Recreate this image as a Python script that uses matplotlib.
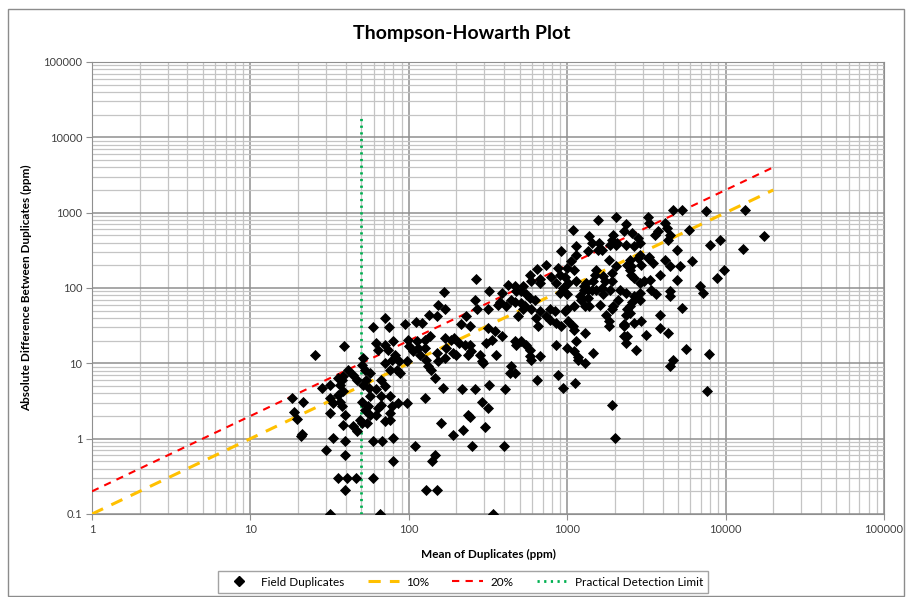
import numpy as np
import matplotlib.pyplot as plt
from matplotlib.lines import Line2D
from matplotlib.patches import Rectangle
from matplotlib.ticker import LogLocator, FixedLocator, FuncFormatter

plt.rcParams['font.family'] = ['Lato', 'DejaVu Sans']

# field duplicate pairs: mean of the pair vs absolute difference (ppm)
mean_ppm = [
    18.4, 21.5, 18.9, 19.8, 21.3, 20.9,
    25.5, 39, 59.6, 70.6, 75, 94, 111, 122, 134, 150, 153, 169, 167,
    62, 64, 70.6, 74, 79, 82, 78, 99, 112, 101, 107, 115, 126, 136, 126, 117, 129, 132, 139,
    150, 153, 169, 171, 169, 146, 126, 164,
    87, 97, 84, 88, 76, 70.6, 67, 70.6, 67, 76, 78, 76, 67, 64, 62, 57, 55, 57, 62, 56.4,
    54, 57, 52.6, 51, 51.5, 51.5, 52.6, 51, 46.8, 44.6, 41.4, 38.5, 37.6, 36.7, 38.5, 35.8,
    36.7, 37.6, 39.5, 31.8, 28.5, 31.8, 31.8, 33.3, 35.8, 85, 97,
    33, 30, 39.5, 39.5, 35.8, 40.6, 46.3, 59.6, 39.5, 32, 65.6, 59.6, 68, 80, 79, 109, 146,
    141, 129, 150, 159, 54.6, 46.8, 38.5, 44.2, 49.3, 51, 76, 70.6,
    218, 261, 321, 405, 288, 318, 237, 243, 220, 189, 302, 251, 400, 342, 942, 1120, 1930,
    2014, 649,
    918, 732, 645, 580, 594, 671, 677, 875, 998, 897, 965, 795, 855, 1010, 942, 897, 990,
    267, 424, 385, 321, 261, 270, 316, 231, 215, 243, 186, 375, 366, 413, 444, 466, 514, 540,
    526, 490, 594, 623, 580, 552, 478, 514, 466, 526, 638, 655, 671, 738, 775, 775, 833, 855,
    918, 1010, 965, 990,
    855, 990, 875, 552, 580, 580, 594, 677, 514, 478, 466, 385, 349, 316, 333, 309, 281, 357,
    288, 296, 444, 437, 466, 226, 190, 200, 237, 248, 243, 194, 208,
    1090, 1560, 2040, 1950, 1910, 1860, 2040, 2070, 1370, 1430, 1590, 1650, 1560, 1350, 1140,
    1140, 1060, 1100, 2040, 1830, 1910, 1680, 1720, 1520, 1490, 1450, 1320, 1270, 1140, 1200,
    1270, 1350, 1430, 1520, 1650, 1910, 1860, 1680, 1350, 1230, 1290, 1380, 1620, 1950, 1910,
    2140, 2090, 1770, 1830, 1830, 1100, 1090, 1110, 1290, 1140, 1110, 1170, 1170, 1290, 1450,
    2360, 2270, 2580, 2800, 2870, 2650, 2360, 3270, 3250, 3480, 3560, 3720, 3300, 3250, 4130,
    4270, 4440, 4340, 4900, 4130, 4440, 3830, 3320, 4900, 4440, 3640, 4440, 3870, 3830, 4340,
    4650, 4440, 2720, 3160, 2400, 2360, 2650, 2940, 2290, 2300, 2480, 2400, 2480, 2580, 2870,
    2650, 2360, 2870, 3380, 3060, 2870, 2650, 2520, 2480, 2520, 2400, 2480, 2800, 2870, 2940,
    2360, 2300, 2300, 4650,
    5300, 7550, 13200, 17600, 12800, 9250, 7930, 5870, 9700, 8800, 6850, 7200, 6170, 5130,
    5300, 5590, 7820, 7620,
]
abs_diff_ppm = [
    3.47, 3.1, 2.24, 1.83, 1.17, 1.1,
    13, 17.2, 30.4, 40, 30.4, 33, 35, 34, 44, 42, 60, 52, 88,
    18.9, 15.2, 17.7, 15.2, 19.6, 13, 11.2, 20.6, 19.6, 16.8, 14.4, 16, 20.6, 22.9, 16, 13, 11.2, 9.1, 8.2,
    13.8, 10.6, 21.8, 16, 11.8, 6.4, 3.5, 4.7,
    10.6, 10.6, 8.2, 7.5, 8.2, 10.1, 6.1, 4.95, 3.65, 3.65, 2.7, 2.2, 2.8, 2.55, 2.08, 2.08, 2.7, 3.65, 4.5, 4.7,
    6.1, 7.5, 8.2, 9.6, 11.8, 5.2, 2.4, 3.1, 6.1, 7.1, 8.2, 6.7, 6.1, 5.2, 4.25, 3.85,
    3.1, 2.7, 2.08, 5.2, 4.7, 3.5, 2.2, 3.0, 6.4, 2.97, 3.0,
    1.02, 0.71, 0.92, 0.61, 0.3, 0.3, 0.3, 0.3, 0.206, 0.1, 0.1, 0.92, 0.92, 1.02, 0.5, 0.81, 0.61,
    0.5, 0.206, 0.206, 1.6, 1.6, 1.25, 1.53, 1.46, 1.79, 1.6, 1.79, 1.7,
    4.5, 4.5, 5.2, 4.6, 3.1, 2.55, 2.08, 1.94, 1.32, 1.13, 1.43, 0.81, 0.81, 0.1, 4.7, 5.4, 2.83,
    1.02, 6.1,
    307, 205, 180, 150, 123, 132, 117, 185, 185, 150, 142, 142, 117, 117, 100, 86, 82,
    132, 111, 86, 90, 70, 52, 52, 43, 33, 31, 20.6, 66, 60, 57, 70, 66, 63, 57,
    52, 42, 52, 70, 74, 82, 90, 90, 105, 105, 40, 31, 49, 42, 38, 52, 49, 34,
    31, 36, 49, 52,
    17.7, 16, 7.1, 17.7, 15.2, 12.4, 11.2, 12.4, 19.6, 17.7, 19.6, 22.9, 26.6, 29.5, 20.6, 18.7, 13, 13,
    10.6, 10.1, 9.1, 7.5, 7.5, 17.7, 13.8, 13, 13, 14.4, 17.7, 21.8, 18.7,
    597, 795, 880, 512, 440, 377, 377, 400, 486, 400, 400, 324, 324, 307, 358,
    278, 226, 172, 194, 238, 158, 143, 123, 176, 150, 123, 117, 105, 123, 78,
    95, 95, 95, 95, 100, 123, 95, 82, 74, 70, 57, 57, 60, 57, 52,
    95, 70, 44, 36, 31, 57, 31, 28, 25, 19.5, 14.4, 12.3, 11.2, 10.1, 13.8,
    716, 566, 540, 460, 400, 358, 377, 261, 250, 215, 512, 566, 733, 880, 733,
    630, 512, 440, 324, 238, 194, 150, 129, 129, 90, 84, 78, 44, 29.5, 25,
    11.2, 9.1, 15.2, 24, 23, 18.7, 34, 36, 33, 31, 47, 52, 57, 66, 70,
    78, 86, 86, 95, 123, 117, 136, 150, 176, 194, 204, 238, 250, 278, 204,
    44, 32, 23.3, 1100,
    1100, 1066, 1100, 486, 333, 439, 377, 583, 176, 135, 105, 85, 231, 198,
    54, 15.5, 13.2, 4.3,
]

# reference lines: relative precision of 10% and 20%, and the detection limit
line_x = [1, 20000]
pct_10 = [0.1, 2000]
pct_20 = [0.2, 4000]
pdl_x = [50, 50]
pdl_y = [0.1, 20000]

x_ticks = [1, 10, 100, 1000, 10000, 100000]
y_ticks = [0.1, 1, 10, 100, 1000, 10000, 100000]

fig = plt.figure(figsize=(9.06, 5.97), dpi=100)
ax = fig.add_axes([92 / 906, 83 / 597, 792 / 906, 452 / 597])

# chart area border
fig.patches.append(Rectangle((8 / 906, 0.002), 896 / 906, 587 / 597, transform=fig.transFigure,
                             fill=False, edgecolor='#8c8c8c', linewidth=1.0))

ax.set_xscale('log')
ax.set_yscale('log')
ax.set_xlim(1, 100000)
ax.set_ylim(0.1, 100000)

ax.xaxis.set_major_locator(FixedLocator(x_ticks))
ax.yaxis.set_major_locator(FixedLocator(y_ticks))
ax.xaxis.set_minor_locator(LogLocator(base=10, subs=np.arange(2, 10), numticks=20))
ax.yaxis.set_minor_locator(LogLocator(base=10, subs=np.arange(2, 10), numticks=20))
fmt = FuncFormatter(lambda v, p: ('%g' % v) if v >= 1 else '0.1')
ax.xaxis.set_major_formatter(fmt)
ax.yaxis.set_major_formatter(fmt)

ax.grid(True, which='major', color='#8f8f8f', linewidth=1.1)
ax.grid(True, which='minor', color='#c4c4c4', linewidth=0.9)
ax.set_axisbelow(True)
for s in ax.spines.values():
    s.set_color('#8f8f8f')
ax.tick_params(which='major', length=4, color='#8f8f8f', labelsize=8, labelcolor='#404040', pad=3)
ax.tick_params(which='minor', length=0)

ax.scatter(mean_ppm, abs_diff_ppm, marker='D', s=32, color='black', linewidths=0, zorder=4,
           label='Field Duplicates')
ax.plot(line_x, pct_10, color='#FFC000', linewidth=2.2, dashes=(4, 3), zorder=3, label='10%')
ax.plot(line_x, pct_20, color='#FF0000', linewidth=1.5, dashes=(3.5, 3), zorder=3, label='20%')
ax.plot(pdl_x, pdl_y, color='#00B050', linewidth=2.0, dashes=(0.8, 1.6), zorder=3,
        label='Practical Detection Limit')

fig.text(0.51, 1 - 33 / 597, 'Thompson-Howarth Plot', ha='center', va='center',
         fontsize=14, fontweight='bold')
ax.set_xlabel('Mean of Duplicates (ppm)', fontsize=8.5, fontweight='bold')
ax.set_ylabel('Absolute Difference Between Duplicates (ppm)', fontsize=8.5, fontweight='bold')
ax.xaxis.set_label_coords(0.5, -0.077)
ax.yaxis.set_label_coords(-0.076, 0.5)

handles = [
    Line2D([], [], linestyle='none', marker='D', markersize=5, color='black'),
    Line2D([], [], color='#FFC000', linewidth=2.2, dashes=(4, 3)),
    Line2D([], [], color='#FF0000', linewidth=1.5, dashes=(3.5, 3)),
    Line2D([], [], color='#00B050', linewidth=2.0, dashes=(0.8, 1.6)),
]
labels = ['Field Duplicates', '10%', '20%', 'Practical Detection Limit']
leg = fig.legend(handles, labels, loc='center', bbox_to_anchor=(463 / 906, 1 - 582 / 597),
                 ncol=4, fontsize=8.5, frameon=True, fancybox=False, edgecolor='#8c8c8c',
                 handlelength=2.6, columnspacing=2.0, borderpad=0.45, handletextpad=0.6)
leg.get_frame().set_linewidth(1.0)

fig.savefig('out.png', dpi=100)
